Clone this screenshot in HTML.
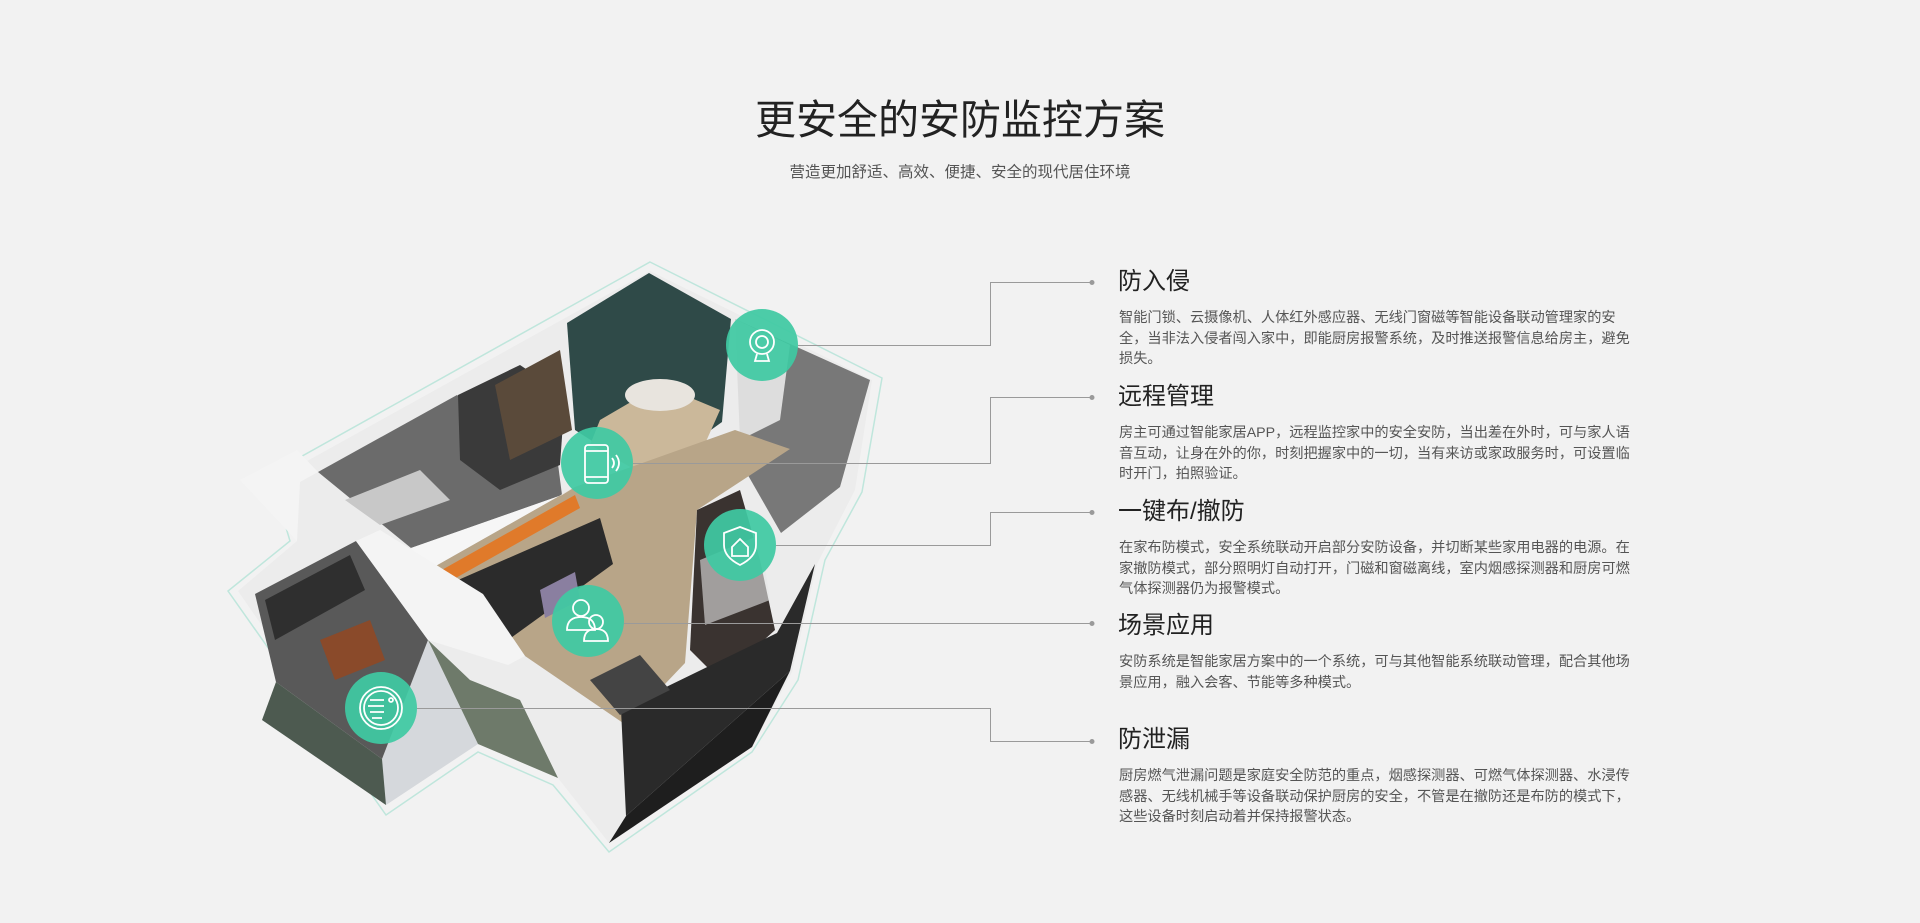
<!DOCTYPE html>
<html><head><meta charset="utf-8">
<style>
html,body{margin:0;padding:0}
body{width:1920px;height:923px;background:#f2f2f2;position:relative;overflow:hidden;font-family:"Liberation Sans","Noto Sans CJK SC",sans-serif}
.t{position:absolute;white-space:nowrap}
.title{left:0;width:1920px;text-align:center;top:93px;font-size:41px;color:#222;line-height:54px}
.sub{left:0;width:1920px;text-align:center;top:161px;font-size:15.5px;color:#555;line-height:24px}
.h{left:1118px;font-size:24px;color:#222;line-height:30px}
.b{left:1119px;font-size:14.2px;color:#555;line-height:20.5px}
</style></head><body>
<div class="t title">更安全的安防监控方案</div>
<div class="t sub">营造更加舒适、高效、便捷、安全的现代居住环境</div>

<svg width="1920" height="923" style="position:absolute;left:0;top:0">
<polygon points="650,262 882,378 862,492 825,560 798,680 752,752 609,852 553,785 478,752 386,815 228,591 290,541 270,474" fill="none" stroke="#bfe6dc" stroke-width="1.5"/>
<polygon points="650,271 872,380 855,490 817,564 792,672 752,747 609,843 558,778 478,744 386,805 238,591 297,541 280,476" fill="#ececec"/>
<polygon points="386,805 382,759 428,640 478,744" fill="#d5d8dc"/>
<polygon points="609,843 626,816 790,671 752,747" fill="#1e1e1e"/>
<polygon points="318,472 457,395 558,464 562,495 411,548" fill="#6b6b6b"/>
<polygon points="345,500 420,470 450,500 380,525" fill="#c8c8c8"/>
<polygon points="458,395 520,365 565,395 560,465 500,490 460,460" fill="#3a3a3a"/>
<polygon points="495,385 560,350 572,430 510,460" fill="#5a4a3a"/>
<polygon points="567,323 649,273 731,319 722,422 647,476 575,430" fill="#2f4a48"/>
<polygon points="600,420 660,385 720,410 700,455 647,476 590,445" fill="#cbb89a"/>
<ellipse cx="660" cy="395" rx="35" ry="16" fill="#e8e4de"/>
<polygon points="735,319 870,380 840,487 781,533 745,470" fill="#787878"/>
<polygon points="735,319 790,345 780,420 740,440" fill="#dddddd"/>
<polygon points="432,568 575,487 735,430 790,449 697,510 685,663 626,725 525,656 483,594" fill="#b8a588"/>
<polygon points="440,571 575,495 580,508 445,584" fill="#e07a2a"/>
<polygon points="449,584 600,518 613,564 508,640" fill="#2b2b2b"/>
<polygon points="540,590 575,572 580,600 545,618" fill="#8a7fa0"/>
<polygon points="697,510 740,490 760,560 775,630 720,680 690,650" fill="#3a3330"/>
<polygon points="700,560 760,535 770,600 705,625" fill="#e6e6e6" opacity=".6"/>
<polygon points="621,709 777,633 815,564 790,671 626,816" fill="#2a2a2a"/>
<polygon points="590,680 640,655 670,690 620,715" fill="#444"/>
<polygon points="255,594 356,541 428,640 382,759 276,682" fill="#595959"/>
<polygon points="265,600 350,555 365,590 275,640" fill="#2f2f2f"/>
<polygon points="320,640 370,620 385,660 335,680" fill="#8a4a2a"/>
<polygon points="276,682 382,759 386,805 262,720" fill="#4d5a50"/>
<polygon points="478,744 428,640 470,680 520,700 558,778" fill="#6e7a6a"/>
<polygon points="411,548 562,495 575,487 432,568 420,575" fill="#f6f6f6"/>
<polygon points="356,541 380,530 483,594 525,656 508,665 428,640" fill="#f4f4f4"/>
<polygon points="240,480 297,450 318,472 300,482 297,541" fill="#f4f4f4"/>
<g stroke="#9a9a9a" stroke-width="1" fill="none">
<polyline points="1092,282.5 990.5,282.5 990.5,345.5 798,345.5"/>
<polyline points="1092,397.5 990.5,397.5 990.5,463.5 633,463.5"/>
<polyline points="1092,512.5 990.5,512.5 990.5,545.5 776,545.5"/>
<polyline points="1092,623.5 624,623.5"/>
<polyline points="1092,741.5 990.5,741.5 990.5,708.5 417,708.5"/>
</g>
<g fill="#9a9a9a"><circle cx="1092" cy="282.5" r="2.5"/><circle cx="1092" cy="397.5" r="2.5"/><circle cx="1092" cy="512.5" r="2.5"/><circle cx="1092" cy="623.5" r="2.5"/><circle cx="1092" cy="741.5" r="2.5"/></g>
<g fill="#3fc9a3" opacity=".93">
<circle cx="762" cy="345" r="36"/><circle cx="597" cy="463" r="36"/><circle cx="740" cy="545" r="36"/><circle cx="588" cy="621" r="36"/><circle cx="381" cy="708" r="36"/>
</g>
<g stroke="#fff" stroke-width="1.8" fill="none">
<circle cx="762" cy="342" r="12"/><circle cx="762" cy="342" r="6"/><path d="M757 354 l-2 7 h14 l-2-7"/>
<rect x="585" y="445" width="23" height="38" rx="3"/><line x1="585" y1="451" x2="608" y2="451"/><line x1="585" y1="477" x2="608" y2="477"/><path d="M612 458 q4 5 0 10 M616 455 q6 8 0 16"/>
<path d="M740 527 l16 6 v12 q0 12-16 20 q-16-8-16-20 v-12 z"/><path d="M732 547 l8-8 8 8 v9 h-16 z"/>
<circle cx="581" cy="608" r="8"/><path d="M567 630 q0-13 14-13 q14 0 14 13 z"/><circle cx="596" cy="622" r="7"/><path d="M584 641 q0-12 12-12 q12 0 12 12 z"/>
<circle cx="381" cy="708" r="21"/><circle cx="381" cy="708" r="17"/><path d="M370 700 h14 M368 706 h16 M370 712 h14 M372 718 h10"/><circle cx="391" cy="700" r="2"/>
</g>
</svg>

<div class="t h" style="top:267px">防入侵</div>
<div class="t b" style="top:308px">智能门锁、云摄像机、人体红外感应器、无线门窗磁等智能设备联动管理家的安<br>全，当非法入侵者闯入家中，即能厨房报警系统，及时推送报警信息给房主，避免<br>损失。</div>
<div class="t h" style="top:382px">远程管理</div>
<div class="t b" style="top:423px">房主可通过智能家居APP，远程监控家中的安全安防，当出差在外时，可与家人语<br>音互动，让身在外的你，时刻把握家中的一切，当有来访或家政服务时，可设置临<br>时开门，拍照验证。</div>
<div class="t h" style="top:497px">一键布/撤防</div>
<div class="t b" style="top:538px">在家布防模式，安全系统联动开启部分安防设备，并切断某些家用电器的电源。在<br>家撤防模式，部分照明灯自动打开，门磁和窗磁离线，室内烟感探测器和厨房可燃<br>气体探测器仍为报警模式。</div>
<div class="t h" style="top:611px">场景应用</div>
<div class="t b" style="top:652px">安防系统是智能家居方案中的一个系统，可与其他智能系统联动管理，配合其他场<br>景应用，融入会客、节能等多种模式。</div>
<div class="t h" style="top:725px">防泄漏</div>
<div class="t b" style="top:766px">厨房燃气泄漏问题是家庭安全防范的重点，烟感探测器、可燃气体探测器、水浸传<br>感器、无线机械手等设备联动保护厨房的安全，不管是在撤防还是布防的模式下，<br>这些设备时刻启动着并保持报警状态。</div>
</body></html>
